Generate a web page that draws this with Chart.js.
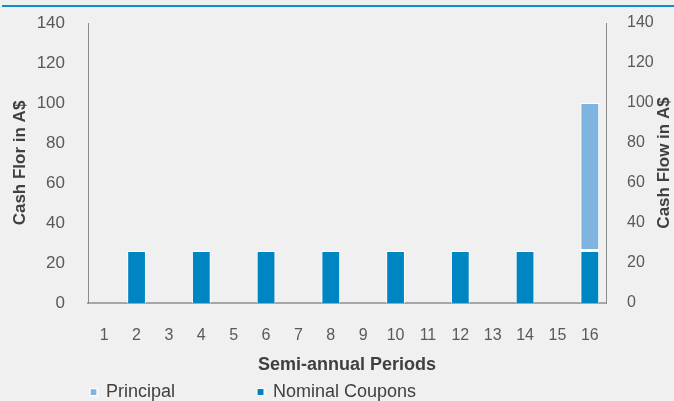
<!DOCTYPE html>
<html><head><meta charset="utf-8">
<script src="https://cdn.jsdelivr.net/npm/chart.js@4.4.1/dist/chart.umd.min.js"></script>
<style>
html,body{margin:0;padding:0;background:#f0f0f0;}
#wrap{position:relative;width:674px;height:401px;overflow:hidden;background:#f0f0f0;}
#topline{position:absolute;left:2px;right:0;top:5px;height:2px;background:#0a8fd0;}
canvas{position:absolute;left:0;top:0;}
</style></head><body>
<div id="wrap"><div id="topline"></div><canvas id="c" width="674" height="401"></canvas></div>
<script>
const periods = ['1','2','3','4','5','6','7','8','9','10','11','12','13','14','15','16'];
const couponValues = [null,26,null,26,null,26,null,26,null,26,null,26,null,26,null,26];
const principalValues = [null,null,null,null,null,null,null,null,null,null,null,null,null,null,null,74];
const yTicks = [0,20,40,60,80,100,120,140];
const seriesNames = ['Nominal Coupons','Principal'];
const axisTitles = {x:'Semi-annual Periods', y:'Cash Flor in A$', y2:'Cash Flow in A$'};

const FAM = '"Liberation Sans", Arial, sans-serif';
Chart.defaults.font.family = FAM;

const legendPlace = {
  id: 'legendPlace',
  beforeLayout(chart){
    const lg = chart.legend;
    if (lg && !lg._patched){
      const f = lg.fit;
      lg.fit = function(){ f.call(this); this.height = 0; };
      lg._patched = true;
    }
  },
  afterLayout(chart){
    const lg = chart.legend;
    if (!lg) return;
    lg.left = 8; lg.right = 674; lg.top = 301; lg.bottom = 401;
    lg.width = 666; lg.height = 100;
  }
};
const rightTitle = {
  id: 'rightTitle',
  afterDraw(chart){
    const s = chart.scales.y2;
    const ctx = chart.ctx;
    ctx.save();
    ctx.translate(s.right - 9.5, (s.top + s.bottom)/2);
    ctx.rotate(-Math.PI/2);
    ctx.font = 'bold 17px ' + FAM;
    ctx.fillStyle = '#404040';
    ctx.textAlign = 'center';
    ctx.textBaseline = 'middle';
    ctx.fillText(axisTitles.y2, 0, 0);
    ctx.restore();
  }
};
const setTicks = s => { s.ticks = yTicks.map(v => ({value: v})); };

new Chart(document.getElementById('c'), {
  type: 'bar',
  data: {
    labels: periods,
    datasets: [
      { label: seriesNames[0], data: couponValues, backgroundColor: '#0085c3',
        borderColor: '#ffffff', borderWidth: 1, borderSkipped: 'start' },
      { label: seriesNames[1], data: principalValues, backgroundColor: '#80b4e0',
        borderColor: '#ffffff', borderWidth: {top:1,left:1,right:1,bottom:2}, borderSkipped: false }
    ]
  },
  options: {
    responsive: false,
    animation: false,
    layout: { padding: { top: 23, bottom: 18, left: 0, right: 0 } },
    datasets: { bar: { categoryPercentage: 1, barPercentage: 0.58 } },
    plugins: {
      tooltip: { enabled: false },
      legend: {
        position: 'bottom', align: 'start', reverse: true,
        labels: { boxWidth: 7, boxHeight: 7, padding: 82, color: '#404040',
                  font: { size: 18, family: FAM } }
      }
    },
    scales: {
      x: {
        stacked: true,
        grid: { display: false, drawTicks: false },
        border: { display: true, color: '#a6a6a6', width: 2 },
        ticks: { padding: 23, color: '#595959', font: { size: 16 }, maxRotation: 0, autoSkip: false },
        title: { display: true, text: axisTitles.x, color: '#404040',
                 font: { size: 18, weight: 'bold' }, padding: { top: 4, bottom: 7 } },
        afterFit(s){ s.height = 80; }
      },
      y: {
        stacked: true, position: 'left', min: 0, max: 140,
        afterBuildTicks: setTicks,
        grid: { display: false, drawTicks: false },
        border: { display: true, color: '#8c8c8c', width: 1 },
        ticks: { padding: 23, color: '#595959', font: { size: 17 } },
        title: { display: true, text: axisTitles.y, color: '#404040',
                 font: { size: 17, weight: 'bold' }, padding: { top: 10, bottom: 0 } },
        afterFit(s){ s.width = 88; s.paddingTop = 0; s.paddingBottom = 0; }
      },
      y2: {
        position: 'right', min: 0, max: 140,
        afterBuildTicks: setTicks,
        grid: { display: false, drawTicks: false },
        border: { display: true, color: '#8c8c8c', width: 1 },
        ticks: { padding: 21, color: '#595959', font: { size: 16 } },
        title: { display: false, text: axisTitles.y2 },
        afterFit(s){ s.width = 68; s.paddingTop = 0; s.paddingBottom = 0; }
      }
    }
  },
  plugins: [legendPlace, rightTitle]
});
</script>
</body></html>
